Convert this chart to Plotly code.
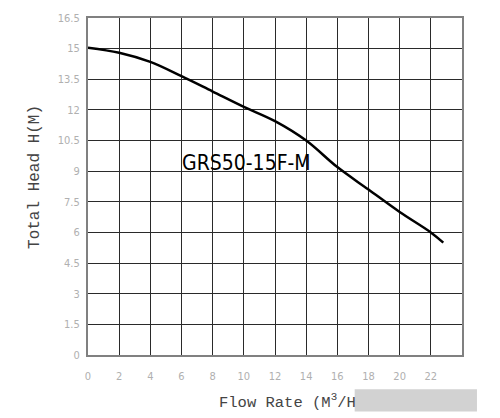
import plotly.graph_objects as go

flow = [0, 2, 4, 6, 8, 10, 12, 14, 16, 18, 20, 22, 22.8]
head = [15.05, 14.8, 14.35, 13.65, 12.9, 12.15, 11.45, 10.5, 9.2, 8.1, 7.0, 6.0, 5.5]

x_ticks = [0, 2, 4, 6, 8, 10, 12, 14, 16, 18, 20, 22]
y_ticks = [0, 1.5, 3, 4.5, 6, 7.5, 9, 10.5, 12, 13.5, 15, 16.5]
y_tick_text = ["0", "1.5", "3", "4.5", "6", "7.5", "9", "10.5", "12", "13.5", "15", "16.5"]
model_label = "GRS50-15F-M"

fig = go.Figure()
fig.add_trace(go.Scatter(
    x=flow, y=head, mode="lines",
    line=dict(color="#000000", width=2.5, shape="spline", smoothing=1.0),
    hoverinfo="skip", showlegend=False,
))

tick_font = dict(family="DejaVu Sans Condensed, DejaVu Sans", size=11, color="#b0b0b0")

fig.update_xaxes(
    range=[0, 24], tickmode="array", tickvals=x_ticks,
    ticktext=[str(v) for v in x_ticks],
    showgrid=True, gridcolor="#2a2a2a", gridwidth=1,
    showline=True, linecolor="#808080", linewidth=2, mirror=True,
    zeroline=False, ticks="", ticklabelstandoff=10, tickfont=tick_font,
)
fig.update_yaxes(
    range=[0, 16.5], tickmode="array", tickvals=y_ticks, ticktext=y_tick_text,
    showgrid=True, gridcolor="#2a2a2a", gridwidth=1,
    showline=True, linecolor="#808080", linewidth=2, mirror=True,
    zeroline=False, ticks="", tickfont=tick_font, ticklabelstandoff=4,
)

fig.add_annotation(
    x=10.15, y=9.4, xref="x", yref="y", text=model_label, showarrow=False,
    font=dict(family="DejaVu Sans Condensed, DejaVu Sans", size=21, color="#000000"),
)
fig.add_annotation(
    x=-0.142, y=0.528, xref="paper", yref="paper", text="Total Head H(M)",
    showarrow=False, textangle=-90, xanchor="center", yanchor="middle",
    font=dict(family="Liberation Mono", size=16, color="#444444"),
)
fig.add_annotation(
    x=0.345, y=-0.138, xref="paper", yref="paper", text="Flow Rate (M<sup>3</sup>/H",
    showarrow=False, xanchor="left", yanchor="middle",
    font=dict(family="Liberation Mono", size=15.5, color="#444444"),
)
# blurred watermark patch
fig.add_shape(
    type="rect", xref="paper", yref="paper",
    x0=0.713, x1=1.04, y0=-0.168, y1=-0.102,
    fillcolor="#d2d2d2", line=dict(width=0), layer="above",
)

fig.update_layout(
    width=500, height=418,
    margin=dict(l=88, r=38, t=14, b=63),
    paper_bgcolor="#ffffff", plot_bgcolor="#ffffff",
)

fig.write_html("out.html", config={"displayModeBar": False},
               post_script="document.body.style.margin='0';")
